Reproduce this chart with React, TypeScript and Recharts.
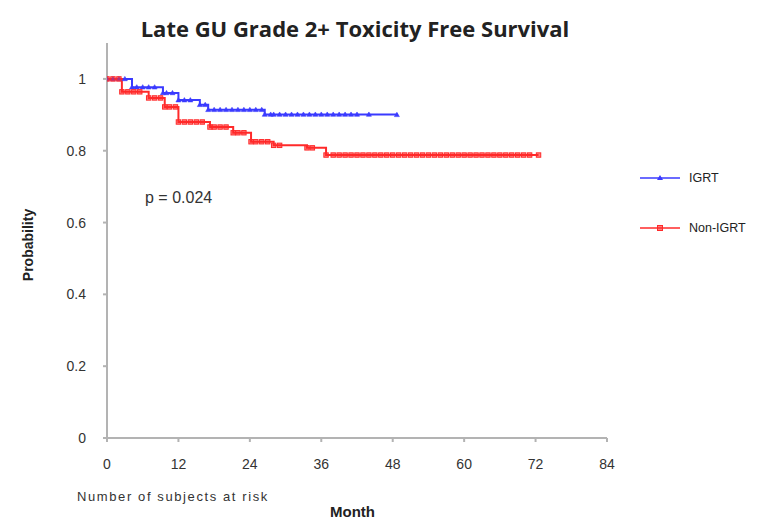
import React from "react";
import { LineChart, Line, XAxis, YAxis } from "recharts";

// Kaplan-Meier style estimates (month, probability) for each arm
const igrtMonths = [0, 1, 2, 3, 4.2, 5, 6, 7, 8, 9.4, 10, 11, 12, 13, 14, 15.6, 16.5, 17, 18, 19, 20, 21, 22, 23, 24, 25, 26, 26.5, 27.5, 28, 29, 30, 31, 32, 33, 34, 35, 36, 37, 38, 39, 40, 41, 42, 44, 48.7];
const igrtSurvival = [1, 1, 1, 1, 0.977, 0.977, 0.977, 0.977, 0.977, 0.961, 0.961, 0.961, 0.941, 0.941, 0.941, 0.928, 0.928, 0.914, 0.914, 0.914, 0.914, 0.914, 0.914, 0.914, 0.914, 0.914, 0.914, 0.901, 0.901, 0.901, 0.901, 0.901, 0.901, 0.901, 0.901, 0.901, 0.901, 0.901, 0.901, 0.901, 0.901, 0.901, 0.901, 0.901, 0.901, 0.9];

const nonIgrtMonths = [0, 1, 2, 2.5, 3.5, 4.5, 5.5, 7, 8, 9, 9.7, 10.5, 11.5, 12, 13, 14, 15, 16, 17.3, 18, 19, 20, 21.2, 22, 23, 24.2, 25, 26, 27, 28, 29, 33.6, 34.5, 36.8, 38, 39, 40, 41, 42, 43, 44, 45, 46, 47, 48, 49, 50, 51, 52, 53, 54, 55, 56, 57, 58, 59, 60, 61, 62, 63, 64, 65, 66, 67, 68, 69, 70, 71, 72.5];
const nonIgrtSurvival = [1, 1, 1, 0.964, 0.964, 0.964, 0.964, 0.947, 0.947, 0.947, 0.922, 0.922, 0.922, 0.88, 0.88, 0.88, 0.88, 0.88, 0.866, 0.866, 0.866, 0.866, 0.85, 0.85, 0.85, 0.825, 0.825, 0.825, 0.825, 0.815, 0.815, 0.808, 0.808, 0.788, 0.788, 0.788, 0.788, 0.788, 0.788, 0.788, 0.788, 0.788, 0.788, 0.788, 0.788, 0.788, 0.788, 0.788, 0.788, 0.788, 0.788, 0.788, 0.788, 0.788, 0.788, 0.788, 0.788, 0.788, 0.788, 0.788, 0.788, 0.788, 0.788, 0.788, 0.788, 0.788, 0.788, 0.788, 0.788];

const monthTicks = [0, 12, 24, 36, 48, 60, 72, 84];
const probTicks = [0, 0.2, 0.4, 0.6, 0.8, 1];

const igrtData = igrtMonths.map((t, i) => ({ t, p: igrtSurvival[i] }));
const nonIgrtData = nonIgrtMonths.map((t, i) => ({ t, p: nonIgrtSurvival[i] }));

const BLUE = "#3a3aff";
const RED = "#ff2a2a";
const AXIS = "#b3b3b3";
const FONT = "'Liberation Sans', Arial, sans-serif";

const TriangleDot = (props: any) => {
  const { cx, cy } = props;
  if (cx == null || cy == null) return null;
  return <path d={`M${cx},${cy - 2.5} L${cx + 2.5},${cy + 1.8} L${cx - 2.5},${cy + 1.8} Z`} fill={BLUE} stroke={BLUE} strokeWidth={0.6} />;
};

const SquareDot = (props: any) => {
  const { cx, cy } = props;
  if (cx == null || cy == null) return null;
  return <rect x={cx - 2.2} y={cy - 2.2} width={4.4} height={4.4} fill={RED} fillOpacity={0.6} stroke={RED} strokeWidth={1} />;
};

const legendItems = [
  { name: "IGRT", color: BLUE, kind: "tri" },
  { name: "Non-IGRT", color: RED, kind: "sq" },
];

const LegendBox = () => (
  <div style={{ position: "absolute", left: 638, top: 169, fontFamily: FONT, fontSize: 12.5, color: "#222" }}>
    {legendItems.map((it, i) => (
      <div key={it.name} style={{ display: "flex", alignItems: "center", height: 18, marginBottom: i === 0 ? 32 : 0 }}>
        <svg width={44} height={10}>
          <line x1={2} y1={5} x2={42} y2={5} stroke={it.color} strokeWidth={1.5} />
          {it.kind === "tri" ? (
            <path d="M22,2 L25,7 L19,7 Z" fill={it.color} />
          ) : (
            <rect x={19.5} y={2.5} width={5} height={5} fill={it.color} fillOpacity={0.6} stroke={it.color} />
          )}
        </svg>
        <span style={{ marginLeft: 7 }}>{it.name}</span>
      </div>
    ))}
  </div>
);

export default function App() {
  return (
    <div style={{ position: "absolute", left: 0, top: 0, width: 766, height: 522, background: "#fff", fontFamily: FONT }}>
      <div style={{ position: "absolute", left: 0, width: 710, top: 13, textAlign: "center", fontFamily: "'Open Sans', sans-serif", fontWeight: 700, fontSize: 22, color: "#222" }}>
        Late GU Grade 2+ Toxicity Free Survival
      </div>
      <LineChart width={766} height={522} data={igrtData} margin={{ top: 43, right: 159, bottom: 54, left: 77 }}>
        <XAxis
          type="number"
          dataKey="t"
          domain={[0, 84]}
          ticks={monthTicks}
          allowDataOverflow
          stroke={AXIS}
          strokeWidth={2}
          tickSize={4}
          tickMargin={17}
          height={30}
          tick={{ fill: "#333", fontSize: 14, fontFamily: FONT }}
        />
        <YAxis
          type="number"
          dataKey="p"
          domain={[0, 1.1]}
          ticks={probTicks}
          allowDataOverflow
          stroke={AXIS}
          strokeWidth={2}
          tickSize={4}
          tickMargin={17}
          width={30}
          tick={{ fill: "#333", fontSize: 14, fontFamily: FONT }}
        />
        <Line
          data={igrtData}
          dataKey="p"
          name="IGRT"
          type="stepAfter"
          stroke={BLUE}
          strokeWidth={2}
          dot={<TriangleDot />}
          isAnimationActive={false}
        />
        <Line
          data={nonIgrtData}
          dataKey="p"
          name="Non-IGRT"
          type="stepAfter"
          stroke={RED}
          strokeWidth={2}
          dot={<SquareDot />}
          isAnimationActive={false}
        />
      </LineChart>
      <LegendBox />
      <div style={{ position: "absolute", left: 28, top: 245, transform: "translate(-50%, -50%) rotate(-90deg)", fontWeight: 700, fontSize: 14, color: "#222", whiteSpace: "nowrap" }}>
        Probability
      </div>
      <div style={{ position: "absolute", left: 145, top: 189, fontSize: 16, color: "#333" }}>p = 0.024</div>
      <div style={{ position: "absolute", left: 77, top: 489, fontSize: 13, letterSpacing: 1.6, color: "#333" }}>Number of subjects at risk</div>
      <div style={{ position: "absolute", left: 330, top: 503, fontWeight: 700, fontSize: 15, color: "#222" }}>Month</div>
    </div>
  );
}
